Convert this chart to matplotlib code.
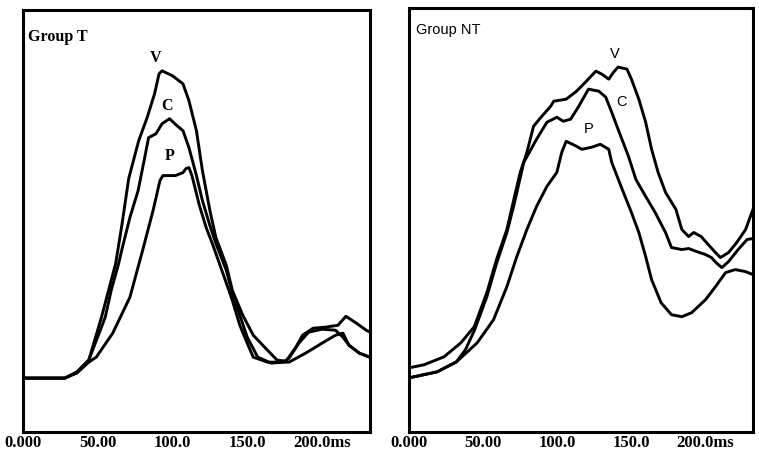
import numpy as np
import matplotlib.pyplot as plt

# Group T (left panel): time in ms, amplitude in arbitrary units
t_ms_V = [0, 28, 36, 44, 52.5, 62, 66, 70.7, 77.4, 83, 88, 91, 93, 100, 107, 111, 116, 120, 125, 129,
          136, 140, 147, 154, 163.5, 170, 176, 182.5, 187, 194, 202, 210.7, 216, 223, 229.6, 233.6]
t_amp_V = [0, 0, 6, 18, 61, 115, 152, 200, 238, 261, 285, 305, 308, 303, 295, 278, 248, 208, 168, 141,
           113, 88, 63, 43, 28, 18, 17, 31, 43, 50, 51, 53, 62, 55, 48, 45]
t_ms_C = [0, 28, 36, 44, 55, 59, 64, 66, 71.5, 77, 81, 84, 89, 93, 98, 103, 107, 111, 116, 120, 125,
          129, 136, 140, 145, 150, 157, 166, 174, 178, 184.5, 191, 200, 209, 214, 218, 225, 233.6]
t_amp_C = [0, 0, 6, 18, 61, 88, 115, 128, 161, 188, 218, 241, 245, 255, 260, 253, 248, 231, 203, 178, 153,
           135, 108, 85, 63, 41, 21, 15, 16, 20, 35, 46, 49, 48, 41, 33, 25, 20]
t_ms_P = [0, 28, 36, 44, 49, 60, 71.5, 80, 87, 91.6, 93.6, 98, 102, 107, 109, 111, 113, 118, 122.5,
          126.6, 133, 140, 145, 150, 154, 163.5, 172, 178, 189, 200, 209, 214, 218, 225, 233.6]
t_amp_P = [0, 0, 5, 16, 21, 45, 81, 128, 168, 198, 203, 203, 203, 206, 210, 211, 203, 173, 151,
           135, 108, 78, 53, 35, 21, 16, 16, 16, 25, 35, 43, 45, 33, 25, 20]

# Group NT (right panel)
nt_ms_V = [0, 10, 23.6, 35, 44, 52.5, 59, 66, 70.7, 75, 79.5, 84, 89, 95.6, 97.6, 106, 113, 119, 126,
           130, 134.7, 138, 141, 147, 150, 155, 159.6, 163.6, 168, 173, 180, 184, 188.6, 192, 197,
           203, 206.7, 210, 215.5, 221, 227, 232]
nt_amp_V = [10, 13, 21, 35, 51, 85, 118, 148, 178, 205, 225, 251, 260, 271, 276, 278, 286, 295, 306,
            303, 298, 305, 310, 308, 298, 278, 255, 228, 205, 185, 168, 148, 141, 145, 141,
            131, 125, 120, 125, 135, 148, 168]
nt_ms_C = [0, 19, 32, 38, 44, 52.5, 59, 66, 70.7, 77.4, 86, 93, 99.7, 104, 109, 114.5, 121, 128, 132.7,
           136.7, 141, 148, 153, 159.6, 166, 173, 177, 184, 188.6, 194, 200, 204, 207, 211, 215.5,
           222, 228, 232]
nt_amp_C = [0, 6, 16, 28, 47, 81, 114, 145, 172, 215, 238, 255, 260, 256, 258, 271, 288, 286, 280,
            265, 248, 221, 198, 181, 165, 145, 130, 128, 129, 126, 123, 120, 115, 110, 116,
            128, 138, 139]
nt_ms_P = [0, 19, 32, 46, 57, 66, 72.7, 79.5, 86, 93, 99.7, 103, 106, 113, 116.5, 123, 129, 134.7,
           136.7, 143, 150, 155, 159.6, 163.6, 170, 177, 184, 190.6, 200, 206.7, 213.5, 220, 227, 232]
nt_amp_P = [0, 6, 16, 35, 58, 91, 121, 148, 171, 191, 205, 225, 236, 231, 228, 230, 233, 228,
            215, 191, 165, 145, 121, 98, 75, 63, 61, 65, 78, 91, 105, 108, 106, 103]

xticks = [0, 50, 100, 150, 200]
xtick_labels = ['0.000', '50.00', '100.0', '150.0', '200.0ms']

fig = plt.figure(figsize=(7.59, 4.53), dpi=100)
ax1 = fig.add_axes([0.0303, 0.0464, 0.457, 0.9316])
ax2 = fig.add_axes([0.5389, 0.0464, 0.4532, 0.936])

lw = 2.1
for ax in (ax1, ax2):
    ax.set_xlim(0, 232)
    ax.set_ylim(-54, 369)
    ax.set_yticks([])
    ax.set_xticks(xticks)
    ax.set_xticklabels(xtick_labels, fontsize=12, fontweight='bold', family='Liberation Serif')
    ax.tick_params(axis='x', length=0, pad=2)
    for s in ax.spines.values():
        s.set_linewidth(2.2)

ax1.plot(t_ms_V, t_amp_V, color='black', lw=lw)
ax1.plot(t_ms_C, t_amp_C, color='black', lw=lw)
ax1.plot(t_ms_P, t_amp_P, color='black', lw=lw)
ax2.plot(nt_ms_V, nt_amp_V, color='black', lw=lw)
ax2.plot(nt_ms_C, nt_amp_C, color='black', lw=lw)
ax2.plot(nt_ms_P, nt_amp_P, color='black', lw=lw)

serif = dict(family='Liberation Serif', fontweight='bold', fontsize=11.5, ha='center', va='center')
ax1.text(0.015, 0.955, 'Group T', transform=ax1.transAxes, family='Liberation Serif',
         fontsize=11.5, fontweight='bold', ha='left', va='top')
ax1.text(89, 321, 'V', **serif)
ax1.text(96, 273, 'C', **serif)
ax1.text(98, 223, 'P', **serif)

sans = dict(family='Liberation Sans', fontsize=10.5, ha='center', va='center')
ax2.text(0.02, 0.965, 'Group NT', transform=ax2.transAxes, family='Liberation Sans',
         fontsize=10.5, ha='left', va='top')
ax2.text(139, 323, 'V', **sans)
ax2.text(143, 275, 'C', **sans)
ax2.text(121, 248, 'P', **sans)

fig.savefig('out.png', dpi=100)
